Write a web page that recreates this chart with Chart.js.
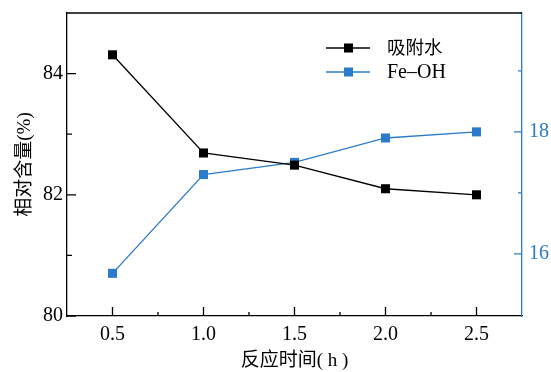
<!DOCTYPE html>
<html>
<head>
<meta charset="utf-8">
<script src="https://cdn.jsdelivr.net/npm/chart.js@4.4.1/dist/chart.umd.min.js"></script>
<style>
  html, body { margin: 0; padding: 0; background: #fff; }
</style>
</head>
<body>
<canvas id="chart" width="551" height="372"></canvas>
<script>
// Reaction time (h)
const times = [0.5, 1.0, 1.5, 2.0, 2.5];
// Relative content (%), left axis
const adsorbedWater = [84.31, 82.69, 82.49, 82.10, 82.00];
// Relative content (%), right axis
const feOH = [15.68, 17.30, 17.50, 17.90, 18.00];

// Tick values
const xTicks = [0.5, 1.0, 1.5, 2.0, 2.5];
const xMinorTicks = [0.75, 1.25, 1.75, 2.25];
const leftTicks = [80, 82, 84];
const leftMinorTicks = [81, 83];
const rightTicks = [16, 18];
const rightMinorTicks = [17, 19];

const BLUE = '#2a7bcb';
const SERIF = "'Liberation Serif', 'Noto Sans CJK SC', serif";

/**
 * Inward tick marks, top frame line and legend
 */
const framePlugin = {
  id: 'frame',
  afterDraw(chart) {
    const { ctx, chartArea: a, scales } = chart;
    ctx.save();
    ctx.lineWidth = 1.3;

    // top border
    ctx.strokeStyle = '#000';
    ctx.beginPath();
    ctx.moveTo(a.left, a.top);
    ctx.lineTo(a.right, a.top);
    ctx.stroke();

    const drawTicks = (values, len, axis, color) => {
      ctx.strokeStyle = color;
      ctx.beginPath();
      values.forEach(v => {
        if (axis === 'x') {
          const px = scales.x.getPixelForValue(v);
          ctx.moveTo(px, a.bottom);
          ctx.lineTo(px, a.bottom - len);
        } else if (axis === 'y') {
          const py = scales.y.getPixelForValue(v);
          ctx.moveTo(a.left, py);
          ctx.lineTo(a.left + len, py);
        } else {
          const py = scales.y1.getPixelForValue(v);
          ctx.moveTo(a.right, py);
          ctx.lineTo(a.right - len, py);
        }
      });
      ctx.stroke();
    };
    drawTicks(xTicks, 9, 'x', '#000');
    drawTicks(xMinorTicks, 4, 'x', '#000');
    drawTicks(leftTicks, 9, 'y', '#000');
    drawTicks(leftMinorTicks, 5, 'y', '#000');
    drawTicks(rightTicks, 8, 'y1', BLUE);
    drawTicks(rightMinorTicks, 4, 'y1', BLUE);

    // legend
    const labelSizes = [18.5, 20];
    chart.data.datasets.forEach((ds, i) => {
      const y = 48 + i * 24;
      ctx.strokeStyle = ds.borderColor;
      ctx.lineWidth = 1.3;
      ctx.beginPath();
      ctx.moveTo(326, y);
      ctx.lineTo(370, y);
      ctx.stroke();
      ctx.fillStyle = ds.backgroundColor;
      ctx.fillRect(344, y - 4.5, 9, 9);
      ctx.fillStyle = '#000';
      ctx.font = labelSizes[i] + 'px ' + SERIF;
      ctx.textBaseline = 'middle';
      ctx.textAlign = 'left';
      ctx.fillText(ds.label, 387, y + 1);
    });
    ctx.restore();
  }
};

// fixed axis sizes, no label overflow padding
const fitY = w => s => { s.width = w; s.paddingTop = 0; s.paddingBottom = 0; };

const ctx = document.getElementById('chart').getContext('2d');
new Chart(ctx, {
  type: 'line',
  data: {
    datasets: [
      {
        label: '吸附水',
        data: times.map((t, i) => ({ x: t, y: adsorbedWater[i] })),
        yAxisID: 'y',
        borderColor: '#000',
        backgroundColor: '#000',
        borderWidth: 1.3,
        pointStyle: 'rect',
        pointRadius: 6.4,
        pointBorderWidth: 0,
        tension: 0
      },
      {
        label: 'Fe–OH',
        data: times.map((t, i) => ({ x: t, y: feOH[i] })),
        yAxisID: 'y1',
        borderColor: BLUE,
        backgroundColor: BLUE,
        borderWidth: 1.3,
        pointStyle: 'rect',
        pointRadius: 6.4,
        pointBorderWidth: 0,
        tension: 0
      }
    ]
  },
  options: {
    responsive: false,
    animation: false,
    layout: { padding: { top: 13, left: 0, right: 0, bottom: 0 } },
    plugins: { legend: { display: false }, tooltip: { enabled: false } },
    scales: {
      x: {
        type: 'linear',
        min: 0.25,
        max: 2.75,
        afterBuildTicks: s => { s.ticks = xTicks.map(v => ({ value: v })); },
        afterFit: s => { s.height = 56; s.paddingLeft = 0; s.paddingRight = 0; },
        grid: { display: false, drawTicks: false },
        border: { display: true, color: '#000', width: 1.3 },
        ticks: {
          color: '#000',
          font: { family: SERIF, size: 20 },
          padding: 7,
          maxRotation: 0,
          callback: v => v.toFixed(1)
        },
        title: {
          display: true,
          text: '反应时间( h )',
          color: '#000',
          font: { family: SERIF, size: 19 },
          padding: { top: 0, bottom: 0 }
        }
      },
      y: {
        position: 'left',
        min: 80,
        max: 85,
        afterBuildTicks: s => { s.ticks = leftTicks.map(v => ({ value: v })); },
        afterFit: fitY(67),
        grid: { display: false, drawTicks: false },
        border: { display: true, color: '#000', width: 1.3 },
        ticks: {
          color: '#000',
          font: { family: SERIF, size: 20 },
          padding: 4
        },
        title: {
          display: true,
          text: '相对含量(%)',
          color: '#000',
          font: { family: SERIF, size: 19 },
          padding: { top: 14, bottom: 0 }
        }
      },
      y1: {
        position: 'right',
        min: 14.98,
        max: 19.95,
        afterBuildTicks: s => { s.ticks = rightTicks.map(v => ({ value: v })); },
        afterFit: fitY(29),
        grid: { display: false, drawTicks: false },
        border: { display: true, color: BLUE, width: 1.3 },
        ticks: {
          color: BLUE,
          font: { family: SERIF, size: 20 },
          padding: 7
        }
      }
    }
  },
  plugins: [framePlugin]
});
</script>
</body>
</html>
